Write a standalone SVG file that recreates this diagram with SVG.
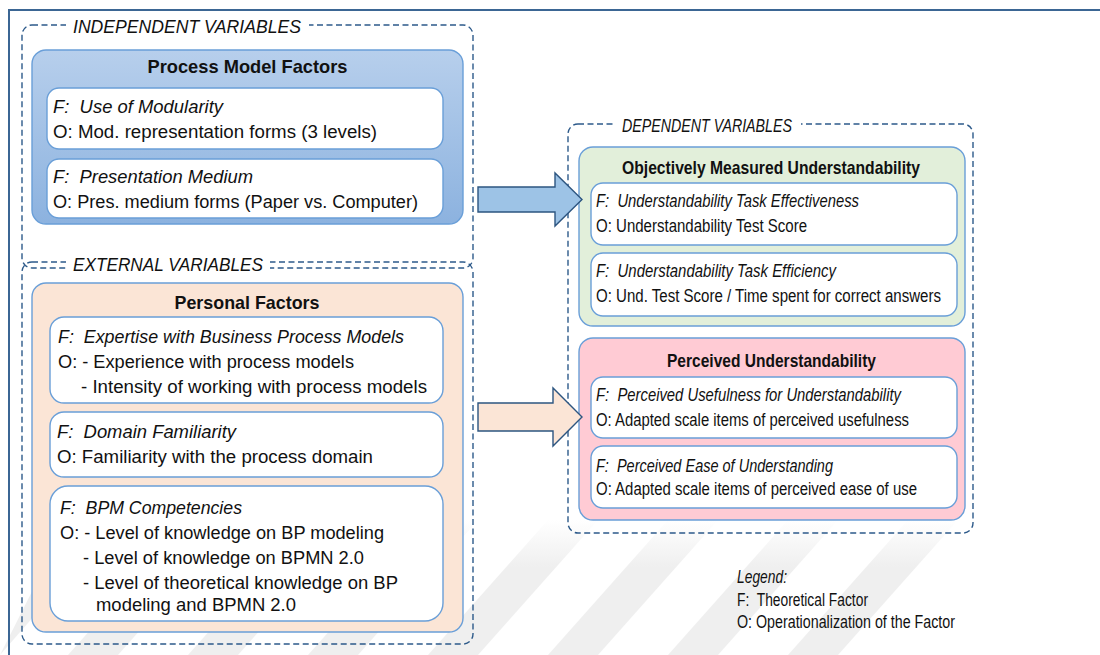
<svg xmlns="http://www.w3.org/2000/svg" width="1100" height="655" viewBox="0 0 1100 655">
<defs>
<linearGradient id="gBlue" x1="0" y1="0" x2="0" y2="1">
<stop offset="0" stop-color="#b7cfec"/>
<stop offset="1" stop-color="#8cb2df"/>
</linearGradient>
<linearGradient id="gStripe" x1="0" y1="0" x2="0" y2="1">
<stop offset="0" stop-color="#efefef" stop-opacity="0"/>
<stop offset="0.35" stop-color="#efefef" stop-opacity="1"/>
<stop offset="1" stop-color="#efefef" stop-opacity="1"/>
</linearGradient>
<style>
text{font-family:"Liberation Sans",Arial,sans-serif;font-size:17.5px;fill:#111;white-space:pre}
.it{font-style:italic}
.ttl{font-weight:bold;font-size:19px;text-anchor:middle}
.grp{font-style:italic;font-size:17.5px;fill:#111}
.dash{fill:none;stroke:#2d5a8a;stroke-width:1.4;stroke-dasharray:6 3.5}
.inner{fill:#fff;stroke:#6a9fd8;stroke-width:1.4}
.outerbox{stroke:#6a9fd8;stroke-width:1.4}
.arrow{stroke:#2d5580;stroke-width:1.4}
.gap{fill:#fff}
</style>
</defs>
<rect width="1100" height="655" fill="#fff"/>
<g id="watermark" fill="url(#gStripe)">
<polygon points="548,520 598,520 478,655 428,655"/>
<polygon points="668,520 718,520 598,655 548,655"/>
<polygon points="788,520 838,520 718,655 668,655"/>
<polygon points="908,520 958,520 838,655 788,655"/>
<polygon points="188,520 238,520 118,655 68,655"/>
<polygon points="308,520 358,520 238,655 188,655"/>
<polygon points="428,520 478,520 358,655 308,655"/>
<polygon points="68,520 118,520 0,655 0,655"/>
</g>
<path id="frame" d="M9,655 V10 H1100" fill="none" stroke="#3b6694" stroke-width="2"/>

<g id="independent-variables">
<rect class="dash" x="22" y="25" width="451" height="243" rx="10"/>
<rect class="gap" x="66" y="15" width="243" height="21"/>
<text class="grp" x="73" y="33" textLength="228" lengthAdjust="spacingAndGlyphs">INDEPENDENT VARIABLES</text>
</g>
<g id="process-model-factors">
<rect class="outerbox" x="32" y="50" width="431" height="174" rx="14" fill="url(#gBlue)"/>
<text class="ttl" x="247.5" y="73" textLength="200" lengthAdjust="spacingAndGlyphs">Process Model Factors</text>
</g>
<g id="use-of-modularity">
<rect class="inner" x="47" y="88" width="396" height="61" rx="12"/>
<text class="it" x="53" y="113" textLength="170" lengthAdjust="spacingAndGlyphs">F:  Use of Modularity</text>
<text x="53" y="138" textLength="324" lengthAdjust="spacingAndGlyphs">O: Mod. representation forms (3 levels)</text>
</g>
<g id="presentation-medium">
<rect class="inner" x="47" y="159" width="396" height="59" rx="12"/>
<text class="it" x="53" y="183" textLength="200" lengthAdjust="spacingAndGlyphs">F:  Presentation Medium</text>
<text x="53" y="208" textLength="365" lengthAdjust="spacingAndGlyphs">O: Pres. medium forms (Paper vs. Computer)</text>
</g>

<g id="external-variables">
<rect class="dash" x="22" y="262" width="451" height="382" rx="10"/>
<rect class="gap" x="66" y="252" width="204" height="21"/>
<text class="grp" x="73" y="271" textLength="190" lengthAdjust="spacingAndGlyphs">EXTERNAL VARIABLES</text>
</g>
<g id="personal-factors">
<rect class="outerbox" x="32" y="283" width="431" height="349" rx="14" fill="#fbe5d6"/>
<text class="ttl" x="247" y="309" textLength="145" lengthAdjust="spacingAndGlyphs">Personal Factors</text>
</g>
<g id="expertise">
<rect class="inner" x="50" y="317" width="393" height="86" rx="14"/>
<text class="it" x="58" y="343" textLength="346" lengthAdjust="spacingAndGlyphs">F:  Expertise with Business Process Models</text>
<text x="58" y="368" textLength="296" lengthAdjust="spacingAndGlyphs">O: - Experience with process models</text>
<text x="81" y="393" textLength="346" lengthAdjust="spacingAndGlyphs">- Intensity of working with process models</text>
</g>
<g id="domain-familiarity">
<rect class="inner" x="50" y="412" width="393" height="65" rx="14"/>
<text class="it" x="57" y="438" textLength="179" lengthAdjust="spacingAndGlyphs">F:  Domain Familiarity</text>
<text x="57" y="463" textLength="316" lengthAdjust="spacingAndGlyphs">O: Familiarity with the process domain</text>
</g>
<g id="bpm-competencies">
<rect class="inner" x="50" y="486" width="393" height="135" rx="18"/>
<text class="it" x="60" y="514" textLength="182" lengthAdjust="spacingAndGlyphs">F:  BPM Competencies</text>
<text x="60" y="539" textLength="324" lengthAdjust="spacingAndGlyphs">O: - Level of knowledge on BP modeling</text>
<text x="83" y="564" textLength="281" lengthAdjust="spacingAndGlyphs">- Level of knowledge on BPMN 2.0</text>
<text x="83" y="589" textLength="315" lengthAdjust="spacingAndGlyphs">- Level of theoretical knowledge on BP</text>
<text x="96" y="611" textLength="200" lengthAdjust="spacingAndGlyphs">modeling and BPMN 2.0</text>
</g>

<g id="dependent-variables">
<rect class="dash" x="568" y="124" width="405" height="409" rx="10"/>
<rect class="gap" x="614" y="114" width="187" height="21"/>
<text class="grp" x="622" y="132" textLength="170" lengthAdjust="spacingAndGlyphs">DEPENDENT VARIABLES</text>
</g>
<g id="objective-understandability">
<rect class="outerbox" x="579" y="147" width="386" height="179" rx="14" fill="#e2efda"/>
<text class="ttl" x="771" y="174" textLength="298" lengthAdjust="spacingAndGlyphs">Objectively Measured Understandability</text>
</g>
<g id="task-effectiveness">
<rect class="inner" x="591" y="183" width="366" height="62" rx="12"/>
<text class="it" x="596" y="207" textLength="263" lengthAdjust="spacingAndGlyphs">F:  Understandability Task Effectiveness</text>
<text x="596" y="232" textLength="211" lengthAdjust="spacingAndGlyphs">O: Understandability Test Score</text>
</g>
<g id="task-efficiency">
<rect class="inner" x="591" y="253" width="366" height="63" rx="12"/>
<text class="it" x="596" y="277" textLength="240" lengthAdjust="spacingAndGlyphs">F:  Understandability Task Efficiency</text>
<text x="596" y="302" textLength="345" lengthAdjust="spacingAndGlyphs">O: Und. Test Score / Time spent for correct answers</text>
</g>
<g id="perceived-understandability">
<rect class="outerbox" x="579" y="338" width="386" height="182" rx="14" fill="#ffcbd4"/>
<text class="ttl" x="771.5" y="367" textLength="209" lengthAdjust="spacingAndGlyphs">Perceived Understandability</text>
</g>
<g id="perceived-usefulness">
<rect class="inner" x="591" y="377" width="366" height="61" rx="12"/>
<text class="it" x="596" y="401" textLength="305" lengthAdjust="spacingAndGlyphs">F:  Perceived Usefulness for Understandability</text>
<text x="596" y="426" textLength="313" lengthAdjust="spacingAndGlyphs">O: Adapted scale items of perceived usefulness</text>
</g>
<g id="perceived-ease">
<rect class="inner" x="591" y="446" width="366" height="62" rx="12"/>
<text class="it" x="596" y="472" textLength="237" lengthAdjust="spacingAndGlyphs">F:  Perceived Ease of Understanding</text>
<text x="596" y="495" textLength="321" lengthAdjust="spacingAndGlyphs">O: Adapted scale items of perceived ease of use</text>
</g>

<g id="connectors">
<path class="arrow" d="M478,187 H555 V173 L582,199.5 L555,226 V212 H478 Z" fill="#9dc3e6"/>
<path class="arrow" d="M478,403 H553 V388 L582,417 L553,446 V431 H478 Z" fill="#fbe5d6"/>
</g>

<g id="legend">
<text class="it" x="737" y="583" textLength="50" lengthAdjust="spacingAndGlyphs">Legend:</text>
<text x="737" y="606" textLength="131" lengthAdjust="spacingAndGlyphs">F:  Theoretical Factor</text>
<text x="737" y="628" textLength="218" lengthAdjust="spacingAndGlyphs">O: Operationalization of the Factor</text>
</g>
</svg>
